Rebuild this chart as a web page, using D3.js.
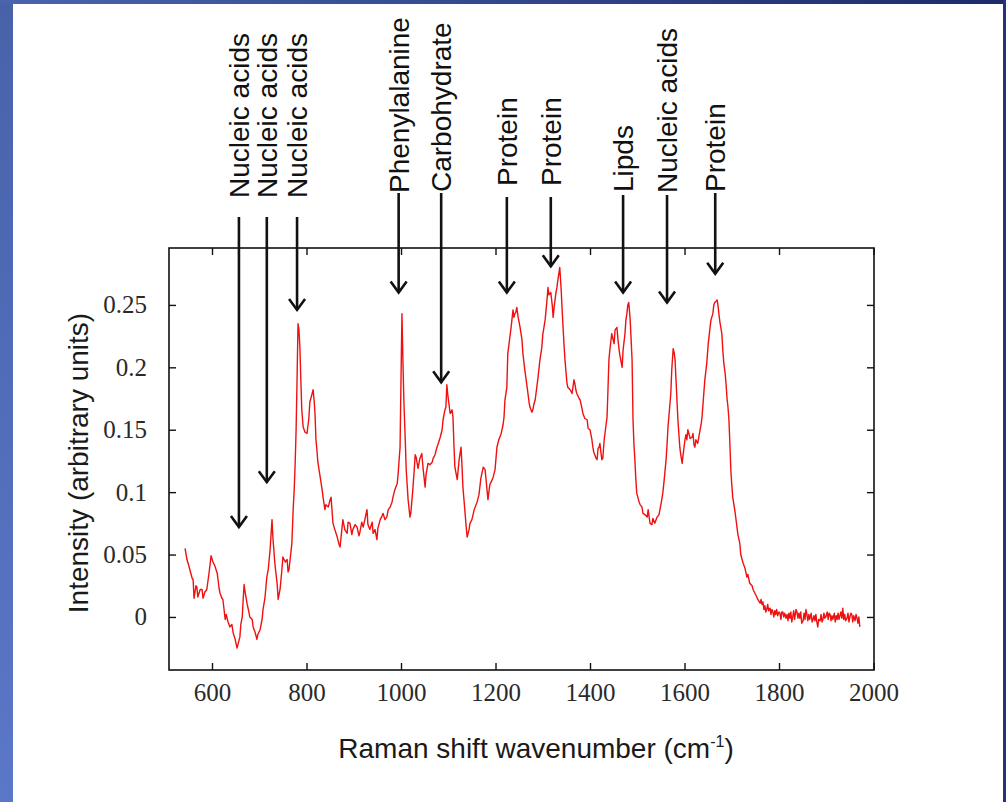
<!DOCTYPE html>
<html>
<head>
<meta charset="utf-8">
<script src="https://cdn.jsdelivr.net/npm/d3@7"></script>
<style>
  html, body { margin: 0; padding: 0; background: #ffffff; }
  svg { display: block; }
</style>
</head>
<body>
<svg id="chart" width="1006" height="802"></svg>
<script>
// Raman spectrum: [wavenumber (cm^-1), intensity (a.u.)]
const spectrumLow = [
  [543,.055],[547,.046],[551,.041],[553,.038],[558,.031],[560,.030],[562,.015],[566,.025],[568,.024],[570,.016],
  [575,.022],[579,.022],[581,.015],[585,.020],[589,.022],[594,.036],[598,.049],[602,.044],[606,.041],[611,.035],
  [615,.023],[617,.019],[621,.015],[623,.014],[628,-.002],[630,.002],[634,-.004],[638,-.008],[642,-.006],[645,-.013],
  [649,-.018],[653,-.025],[655,-.022],[659,-.016],[661,-.006],[664,0],[666,.014],[668,.026],[670,.020],[674,.011],
  [678,.004],[680,0],[685,-.002],[687,-.008],[691,-.012],[695,-.018],[697,-.014],[702,-.010],[706,-.002],[708,.006],
  [712,.015],[716,.032],[719,.038],[723,.054],[727,.078],[729,.063],[733,.043],[738,.026],[740,.014],[742,.018],
  [744,.022],[748,.038],[750,.048],[755,.044],[759,.046],[761,.036],[763,.038],[767,.052],[769,.059],[772,.088],
  [774,.102],[776,.123],[778,.150],[780,.190],[782,.235],[784,.230],[786,.216],[788,.190],[790,.166],[793,.152],
  [797,.148],[801,.147],[805,.159],[807,.172],[812,.179],[814,.182],[816,.174],[818,.163],[820,.142],[822,.134],
  [824,.124],[829,.112],[833,.102],[835,.096],[839,.086],[841,.090],[846,.088],[850,.094],[852,.096],[856,.075],
  [860,.070],[865,.064],[869,.058],[871,.056],[875,.071],[877,.078],[881,.070],[886,.067],[888,.076],[892,.075],
  [896,.066],[898,.070],[903,.074],[907,.072],[911,.065],[913,.068],[917,.076],[920,.072],[924,.079],[928,.086],
  [930,.074],[934,.070],[939,.076],[941,.067],[945,.070],[949,.062],[951,.071],[956,.078],[960,.081],[962,.083],
  [966,.078],[970,.080],[973,.086],[977,.088],[981,.092],[983,.096],[987,.102],[992,.107],[994,.115],[996,.126],
  [998,.136],[1000,.190],[1002,.243],[1004,.206],[1006,.174],[1009,.142],[1011,.118],[1015,.094],[1019,.080],[1021,.084],
  [1025,.102],[1028,.118],[1030,.130],[1032,.128],[1036,.119],[1040,.127],[1044,.131],[1047,.118],[1051,.104],[1053,.114],
  [1057,.123],[1061,.122],[1066,.124],[1068,.127],[1072,.130],[1076,.136],[1078,.138],[1083,.144],[1087,.150],[1089,.158],
  [1093,.166],[1095,.168],[1097,.186],[1099,.178],[1104,.163],[1108,.166],[1110,.160],[1112,.138],[1114,.120],[1119,.110],
  [1123,.126],[1127,.136],[1129,.122],[1131,.104],[1135,.086],[1138,.072],[1140,.064],[1144,.070],[1146,.075],[1150,.078]
];
const spectrumMid = [
  [1155,.086],[1161,.092],[1165,.098],[1169,.111],[1174,.120],[1178,.118],[1182,.102],[1184,.094],[1188,.106],[1193,.110],
  [1195,.112],[1199,.118],[1203,.136],[1205,.139],[1207,.142],[1212,.147],[1216,.154],[1218,.160],[1220,.174],[1224,.184],
  [1226,.211],[1231,.226],[1233,.232],[1237,.246],[1239,.240],[1241,.243],[1243,.244],[1245,.248],[1248,.240],[1252,.232],
  [1256,.222],[1258,.211],[1262,.198],[1267,.184],[1271,.172],[1273,.168],[1277,.164],[1279,.166],[1281,.170],[1284,.174],
  [1288,.186],[1290,.192],[1294,.206],[1298,.216],[1300,.226],[1305,.238],[1309,.254],[1311,.264],[1313,.258],[1317,.260],
  [1320,.250],[1322,.240],[1324,.248],[1326,.254],[1328,.260],[1330,.264],[1332,.270],[1336,.280],[1339,.262],[1341,.246],
  [1343,.232],[1345,.218],[1347,.206],[1351,.188],[1353,.184],[1358,.182],[1362,.179],[1366,.190],[1368,.187],[1370,.182],
  [1372,.179],[1377,.175],[1379,.174],[1383,.167],[1385,.163],[1389,.159],[1394,.158],[1396,.151],[1400,.150],[1404,.142],
  [1406,.136],[1408,.132],[1413,.127],[1415,.126],[1417,.135],[1419,.136],[1421,.139],[1423,.132],[1425,.126],[1427,.127],
  [1430,.142],[1432,.148],[1436,.160],[1438,.182],[1440,.206],[1442,.214],[1446,.227],[1449,.222],[1451,.219],[1453,.230],
  [1457,.232],[1459,.223],[1461,.216],[1463,.210],[1468,.200],[1470,.214],[1474,.227],[1476,.238],[1478,.243],[1480,.250],
  [1482,.252],[1485,.238],[1487,.222],[1489,.206],[1491,.158],[1493,.138],[1495,.126],[1497,.110],[1499,.099],[1504,.092],
  [1506,.090],[1510,.088],[1512,.083],[1516,.082],[1521,.080],[1523,.086],[1527,.075],[1531,.074],[1533,.079],[1537,.075],
  [1542,.080],[1546,.082],[1548,.086],[1550,.090],[1554,.099],[1557,.110],[1561,.126],[1563,.138],[1565,.152],[1569,.170],
  [1571,.179],[1573,.198],[1576,.215],[1578,.212],[1580,.206],[1582,.190],[1584,.174],[1586,.158],[1590,.136],[1592,.130],
  [1595,.123],[1597,.130],[1601,.142],[1603,.146],[1605,.142],[1607,.150],[1612,.143],[1616,.144],[1618,.147],[1620,.138],
  [1622,.136],[1624,.142],[1628,.139],[1633,.150],[1635,.154],[1637,.160],[1641,.180],[1643,.190],[1647,.203],[1650,.218],
  [1654,.232],[1656,.238],[1660,.243],[1662,.250],[1664,.252],[1667,.253],[1669,.254],[1671,.249],[1673,.242],[1675,.236],
  [1679,.227],[1681,.214],[1683,.204],[1686,.195],[1688,.186],[1690,.175],[1692,.168],[1694,.158],[1696,.139],[1698,.118]
];
const spectrumHigh = [
  [1700,.106],[1702,.096],[1707,.084],[1711,.072],[1713,.066],[1717,.059],[1719,.050],[1724,.043],[1728,.039],[1732,.032],
  [1734,.034],[1738,.027],[1743,.025],[1745,.022],[1749,.019],[1753,.016],[1755,.014],[1760,.011],[1762,.014],[1764,.010],
  [1766,.012],[1768,.006],[1770,.009],[1772,.004],[1774,.006],[1776,.010],[1778,.005],[1781,.007],[1783,.002],[1785,.006],
  [1787,.004],[1789,.000],[1791,.005],[1793,.002],[1795,.006],[1797,.001],[1800,.004],[1802,.003],[1804,-.002],[1806,.004],
  [1808,.004],[1810,.000],[1812,.003],[1815,-.001],[1817,.002],[1819,-.003],[1821,.003],[1823,-.001],[1825,.004],[1827,-.004],
  [1829,0],[1831,.005],[1833,-.002],[1836,.006],[1838,.004],[1840,-.001],[1842,.003],[1844,-.001],[1846,.004],[1848,-.005],
  [1851,-.003],[1853,.003],[1855,-.002],[1857,.006],[1859,.002],[1861,-.003],[1863,.002],[1865,-.002],[1868,.003],[1870,-.004],
  [1872,-.002],[1874,.001],[1876,-.003],[1878,.002],[1880,-.004],[1882,-.008],[1884,-.002],[1887,-.003],[1889,.002],[1891,-.004],
  [1893,-.002],[1895,.003],[1897,-.001],[1899,0],[1902,.004],[1904,-.002],[1906,.003],[1908,.002],[1910,-.003],[1912,.001],
  [1914,-.002],[1917,.003],[1919,-.004],[1921,.001],[1923,-.002],[1925,.003],[1927,-.002],[1929,.001],[1931,.004],[1933,-.001],
  [1935,.007],[1937,-.002],[1939,.002],[1941,-.003],[1944,-.001],[1946,.003],[1948,-.004],[1950,0],[1952,.003],[1954,.002],
  [1956,-.004],[1958,.001],[1961,-.003],[1963,.002],[1965,-.001],[1967,-.005],[1969,.000],[1971,-.008]
];

// Band assignments: label, band position (cm^-1), intensity where the arrow points
const bandNames = ["Nucleic acids","Nucleic acids","Nucleic acids","Phenylalanine","Carbohydrate",
                   "Protein","Protein","Lipds","Nucleic acids","Protein"];
const bandShifts = [657, 716, 780, 995, 1085, 1224, 1317, 1470, 1563, 1665];
const bandArrowAt = [0.072, 0.108, 0.246, 0.260, 0.188, 0.260, 0.281, 0.260, 0.252, 0.275];

// Axis ticks
const xTickValues = [600, 800, 1000, 1200, 1400, 1600, 1800, 2000];
const yTickValues = [0, 0.05, 0.1, 0.15, 0.2, 0.25];
const yTickLabels = ["0", "0.05", "0.1", "0.15", "0.2", "0.25"];

// ---- layout ----
const W = 1006, H = 802;
const plot = { left: 169, right: 874, top: 248, bottom: 670 };
// vertical placement of the band labels above the frame (text foot, stem start)
const labelFoot = [198, 198, 198, 193, 192, 186, 186, 192, 193, 192];
const stemStart = [217, 217, 217, 193, 193, 197, 197, 195, 195, 193];

const svg = d3.select("#chart");

// slide backdrop
const defs = svg.append("defs");
const gLeft = defs.append("linearGradient").attr("id", "bgLeft")
  .attr("x1", 0).attr("y1", 0).attr("x2", 0).attr("y2", 1);
gLeft.append("stop").attr("offset", "0%").attr("stop-color", "#4862aa");
gLeft.append("stop").attr("offset", "100%").attr("stop-color", "#5a78c8");
const gTop = defs.append("linearGradient").attr("id", "bgTop")
  .attr("x1", 0).attr("y1", 0).attr("x2", 1).attr("y2", 0);
gTop.append("stop").attr("offset", "0%").attr("stop-color", "#4a64ad");
gTop.append("stop").attr("offset", "100%").attr("stop-color", "#1d2b6b");

svg.append("rect").attr("width", W).attr("height", H).attr("fill", "#ffffff");
svg.append("rect").attr("x", 0).attr("y", 0).attr("width", 13).attr("height", H).attr("fill", "url(#bgLeft)");
svg.append("rect").attr("x", 0).attr("y", 0).attr("width", W).attr("height", 4).attr("fill", "url(#bgTop)");
svg.append("rect").attr("x", 1003).attr("y", 0).attr("width", 3).attr("height", H).attr("fill", "#24337a");

// scales
const x = d3.scaleLinear().domain([509, 2001]).range([plot.left, plot.right]);
const y = d3.scaleLinear().domain([-0.0425, 0.2956]).range([plot.bottom, plot.top]);

// spectrum trace
const spectrum = spectrumLow.concat(spectrumMid, spectrumHigh);
const line = d3.line().x(d => x(d[0])).y(d => y(d[1]));
svg.append("path")
  .datum(spectrum)
  .attr("d", line)
  .attr("fill", "none")
  .attr("stroke", "#f01010")
  .attr("stroke-width", 1.4)
  .attr("stroke-linejoin", "round");

// axes (ticks pointing inward on all four sides)
const tickLen = 7;
const axisFont = "'Liberation Serif', 'Times New Roman', serif";

const xBottom = svg.append("g").attr("transform", `translate(0,${plot.bottom})`)
  .call(d3.axisBottom(x).tickValues(xTickValues).tickSize(-tickLen).tickPadding(13).tickFormat(d3.format("d")));
const xTop = svg.append("g").attr("transform", `translate(0,${plot.top})`)
  .call(d3.axisTop(x).tickValues(xTickValues).tickSize(-tickLen).tickFormat(""));
const yLeft = svg.append("g").attr("transform", `translate(${plot.left},0)`)
  .call(d3.axisLeft(y).tickValues(yTickValues).tickSize(-tickLen).tickPadding(22)
    .tickFormat((d, i) => yTickLabels[i]));
const yRight = svg.append("g").attr("transform", `translate(${plot.right},0)`)
  .call(d3.axisRight(y).tickValues(yTickValues).tickSize(-tickLen).tickFormat(""));

[xBottom, xTop, yLeft, yRight].forEach(g => {
  g.select(".domain").remove();
  g.selectAll(".tick line").attr("stroke", "#111").attr("stroke-width", 1.4);
  g.selectAll("text").attr("font-family", axisFont).attr("font-size", 25).attr("fill", "#2a2a2a");
});

// frame
svg.append("rect")
  .attr("x", plot.left).attr("y", plot.top)
  .attr("width", plot.right - plot.left).attr("height", plot.bottom - plot.top)
  .attr("fill", "none").attr("stroke", "#111").attr("stroke-width", 1.6);

// axis titles
const titleFont = "'Liberation Sans', Arial, sans-serif";
const xTitle = svg.append("text")
  .attr("x", 536).attr("y", 758)
  .attr("text-anchor", "middle")
  .attr("font-family", titleFont).attr("font-size", 28).attr("fill", "#1a1a1a");
xTitle.append("tspan").text("Raman shift wavenumber (cm");
xTitle.append("tspan").attr("dy", -11).attr("font-size", 16).text("-1");
xTitle.append("tspan").attr("dy", 11).text(")");

svg.append("text")
  .attr("transform", "translate(88,463) rotate(-90)")
  .attr("text-anchor", "middle")
  .attr("font-family", titleFont).attr("font-size", 28).attr("fill", "#1a1a1a")
  .text("Intensity (arbitrary units)");

// band annotations: vertical label, stem and open arrowhead
const bands = bandNames.map((name, i) => ({
  name, shift: bandShifts[i], tip: bandArrowAt[i], foot: labelFoot[i], stem: stemStart[i]
}));
const ann = svg.append("g").attr("class", "bands");
const band = ann.selectAll("g").data(bands).join("g");

band.append("text")
  .attr("transform", d => `translate(${x(d.shift) + 10},${d.foot}) rotate(-90)`)
  .attr("font-family", titleFont).attr("font-size", 28).attr("fill", "#111")
  .text(d => d.name);

band.append("line")
  .attr("x1", d => x(d.shift)).attr("x2", d => x(d.shift))
  .attr("y1", d => d.stem).attr("y2", d => y(d.tip))
  .attr("stroke", "#111").attr("stroke-width", 2.6);

band.append("path")
  .attr("d", d => {
    const px = x(d.shift), py = y(d.tip);
    return `M${px - 8},${py - 11} L${px},${py} L${px + 8},${py - 11}`;
  })
  .attr("fill", "none").attr("stroke", "#111").attr("stroke-width", 2.6)
  .attr("stroke-linejoin", "miter").attr("stroke-linecap", "butt");
</script>
</body>
</html>
